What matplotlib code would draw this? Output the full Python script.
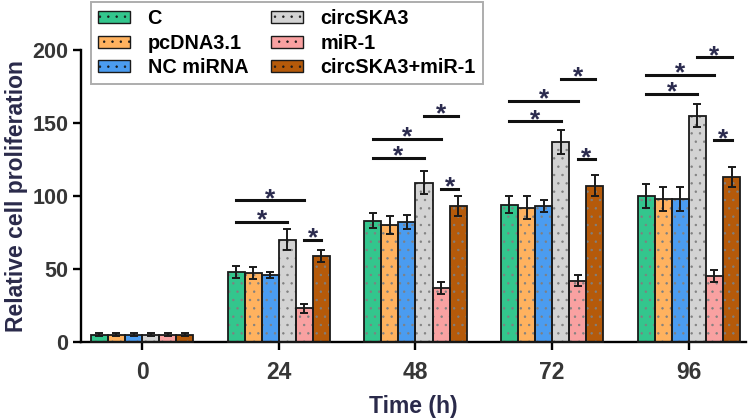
import numpy as np
import matplotlib
matplotlib.use('Agg')
import matplotlib.pyplot as plt
import matplotlib.patches as mpatches

plt.rcParams['font.family'] = ['Liberation Sans', 'DejaVu Sans']
plt.rcParams['font.weight'] = 'bold'
plt.rcParams['hatch.linewidth'] = 0.5

# data
times = ['0', '24', '48', '72', '96']
groups = ['C', 'pcDNA3.1', 'NC miRNA', 'circSKA3', 'miR-1', 'circSKA3+miR-1']
colors = ['#33c68d', '#ffb25f', '#4b9cf0', '#d3d3d3', '#f9a1a1', '#b55a0a']

C_vals = [5, 48, 83, 94, 100]
pcDNA_vals = [5, 47, 80, 92, 98]
NC_vals = [5, 46, 82, 93, 98]
circ_vals = [5, 70, 109, 137, 155]
mir_vals = [5, 23, 37, 42, 45]
combo_vals = [5, 59, 93, 107, 113]

C_err = [1, 4, 5, 6, 8]
pcDNA_err = [1, 4, 6, 8, 8]
NC_err = [1, 2, 5, 4, 8]
circ_err = [1, 7, 8, 8, 8]
mir_err = [1, 3, 4, 4, 4]
combo_err = [1, 4, 7, 7, 7]

values = [C_vals, pcDNA_vals, NC_vals, circ_vals, mir_vals, combo_vals]
errors = [C_err, pcDNA_err, NC_err, circ_err, mir_err, combo_err]

# significance brackets: (time index, bar from, bar to, height)
sig_lines = [
    (1, 0, 3, 82), (1, 0, 4, 97), (1, 4, 5, 70),
    (2, 0, 3, 126), (2, 0, 4, 139), (2, 3, 5, 155), (2, 4, 5, 105),
    (3, 0, 3, 151), (3, 0, 4, 165), (3, 3, 5, 180), (3, 4, 5, 125),
    (4, 0, 3, 170), (4, 0, 4, 183), (4, 3, 5, 195), (4, 4, 5, 138),
]

fig = plt.figure(figsize=(7.5, 4.2), dpi=100)
ax = fig.add_axes([0.108, 0.186, 0.887, 0.695])

x = np.arange(len(times))
w = 0.125
offsets = (np.arange(6) - 2.5) * w

for i in range(6):
    xs = x + offsets[i]
    # dotted fill in grey, black outline drawn on top
    ax.bar(xs, values[i], w, color=colors[i], edgecolor='#808080', linewidth=0,
           hatch='..', clip_on=False, zorder=2)
    ax.bar(xs, values[i], w, facecolor='none', edgecolor='#1a1a1a', linewidth=1.3,
           clip_on=False, zorder=3)
    ax.errorbar(xs, values[i], yerr=errors[i], fmt='none', ecolor='#1a1a1a',
                elinewidth=1.4, capsize=3, capthick=1.4, clip_on=False, zorder=4)

for t, a, b, h in sig_lines:
    x1 = x[t] + offsets[a]
    x2 = x[t] + offsets[b]
    ax.plot([x1, x2], [h, h], color='#111111', lw=2.2, clip_on=False, zorder=4)
    ax.annotate('*', xy=((x1 + x2) / 2, h), xytext=(0, -4), textcoords='offset points',
                ha='center', va='baseline', fontsize=19, color='#2b2b4e',
                annotation_clip=False)

ax.set_xlim(-0.447, 4.42)
ax.set_ylim(0, 200)
ax.set_yticks([0, 50, 100, 150, 200])
ax.set_xticks(x)
ax.set_xticklabels(times)
ax.spines['top'].set_visible(False)
ax.spines['right'].set_visible(False)
ax.spines['left'].set_linewidth(1.7)
ax.spines['bottom'].set_linewidth(1.7)
ax.tick_params(axis='both', length=6, width=1.7, labelcolor='#363636')
ax.tick_params(axis='y', labelsize=15.5, pad=3)
ax.tick_params(axis='x', labelsize=16.5, pad=8)
ax.set_ylabel('Relative cell proliferation', fontsize=16.5, fontweight='bold',
              color='#2a2a4a', labelpad=3)
ax.set_xlabel('Time (h)', fontsize=16.5, fontweight='bold', color='#2a2a4a', labelpad=8)

handles = [mpatches.Patch(facecolor=colors[i], edgecolor='#1a1a1a', hatch='..', label=groups[i])
           for i in range(6)]
leg = fig.legend(handles=handles, loc='upper left', bbox_to_anchor=(0.1213, 0.995), ncol=2,
                 fontsize=14.3, frameon=True, fancybox=False, edgecolor='#999999',
                 handlelength=1.6, handleheight=0.54, handletextpad=0.9,
                 columnspacing=1.15, labelspacing=0.28, borderpad=0.35, borderaxespad=0)
leg.get_frame().set_linewidth(1.4)

fig.savefig('out.png', dpi=100)
